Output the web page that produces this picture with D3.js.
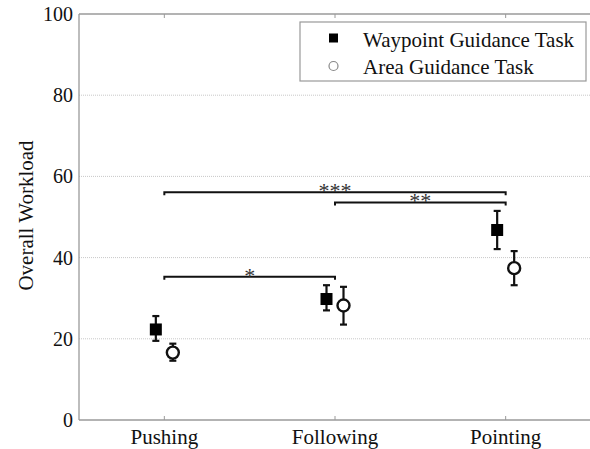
<!DOCTYPE html>
<html>
<head>
<meta charset="utf-8">
<script src="https://cdn.jsdelivr.net/npm/d3@7"></script>
<style>
  body { margin: 0; background: #fff; }
  text { font-family: "Liberation Serif", "Times New Roman", serif; fill: #111; }
</style>
</head>
<body>
<div id="chart"></div>
<script>
// data
var categories = ["Pushing", "Following", "Pointing"];
var waypointMean = [22.3, 29.8, 46.8];
var waypointLow = [19.5, 27.0, 42.1];
var waypointHigh = [25.6, 33.2, 51.5];
var areaMean = [16.6, 28.2, 37.4];
var areaLow = [14.6, 23.5, 33.2];
var areaHigh = [18.8, 32.8, 41.6];
var yTicks = [0, 20, 40, 60, 80, 100];
// significance brackets
var sigFrom = [0, 0, 1];
var sigTo = [1, 2, 2];
var sigLevel = [35.3, 56.1, 53.6];
var sigLabel = ["*", "***", "**"];
var legendLabels = ["Waypoint Guidance Task", "Area Guidance Task"];

var W = 590, H = 449;
var margin = { top: 14, right: -1, bottom: 29, left: 79 };
var width = W - margin.left - margin.right;
var height = H - margin.top - margin.bottom;

var svg = d3.select("#chart").append("svg")
    .attr("width", W).attr("height", H);

var g = svg.append("g")
    .attr("transform", "translate(" + margin.left + "," + margin.top + ")");

var xScale = d3.scaleLinear().domain([0.5, 3.5]).range([0, width]);
var yScale = d3.scaleLinear().domain([0, 100]).range([height, 0]);
var off = 8.5;

// dotted grid
g.selectAll(".grid").data(yTicks.slice(1, -1)).enter().append("line")
    .attr("x1", 0).attr("x2", width)
    .attr("y1", function (d) { return yScale(d); })
    .attr("y2", function (d) { return yScale(d); })
    .attr("stroke", "#c8c8c8").attr("stroke-width", 1)
    .attr("stroke-dasharray", "1,1");

// frame
var axisColor = "#9a9a9a";
g.append("line").attr("x1", 0).attr("x2", 0).attr("y1", 0).attr("y2", height)
    .attr("stroke", axisColor).attr("stroke-width", 1.3);
g.append("line").attr("x1", 0).attr("x2", width).attr("y1", height).attr("y2", height)
    .attr("stroke", axisColor).attr("stroke-width", 1.3);
g.append("line").attr("x1", 0).attr("x2", width).attr("y1", 0).attr("y2", 0)
    .attr("stroke", axisColor).attr("stroke-width", 1.3);

// x ticks top and bottom (inside)
[1, 2, 3].forEach(function (v) {
    var x = xScale(v);
    g.append("line").attr("x1", x).attr("x2", x).attr("y1", height).attr("y2", height - 4)
        .attr("stroke", axisColor);
    g.append("line").attr("x1", x).attr("x2", x).attr("y1", 0).attr("y2", 4)
        .attr("stroke", axisColor);
});

// y tick labels
g.selectAll(".ylab").data(yTicks).enter().append("text")
    .attr("x", -6)
    .attr("y", function (d) { return yScale(d); })
    .attr("dy", "0.35em")
    .attr("text-anchor", "end")
    .style("font-size", "20px")
    .text(function (d) { return d; });

// x tick labels
g.selectAll(".xlab").data(categories).enter().append("text")
    .attr("x", function (d, i) { return xScale(i + 1); })
    .attr("y", height + 24)
    .attr("text-anchor", "middle")
    .style("font-size", "21px")
    .text(function (d) { return d; });

// y title
svg.append("text")
    .attr("transform", "translate(33," + 215.5 + ") rotate(-90)")
    .attr("text-anchor", "middle")
    .style("font-size", "21px")
    .text("Overall Workload");

// significance brackets
sigLabel.forEach(function (lab, k) {
    var x1 = xScale(sigFrom[k] + 1), x2 = xScale(sigTo[k] + 1), y = yScale(sigLevel[k]);
    g.append("path")
        .attr("d", "M" + x1 + "," + (y + 3) + "V" + y + "H" + x2 + "V" + (y + 3))
        .attr("fill", "none").attr("stroke", "#111").attr("stroke-width", 2);
    g.append("text")
        .attr("x", (x1 + x2) / 2)
        .attr("y", y + 6)
        .attr("text-anchor", "middle")
        .style("font-size", "22px")
        .style("fill", "#333")
        .text(lab);
});

// error bars
function errorBars(mean, low, high, dx) {
    mean.forEach(function (m, i) {
        var x = xScale(i + 1) + dx;
        var eg = g.append("g").attr("stroke", "#111").attr("stroke-width", 2.2);
        eg.append("line").attr("x1", x).attr("x2", x)
            .attr("y1", yScale(low[i])).attr("y2", yScale(high[i]));
        eg.append("line").attr("x1", x - 3.5).attr("x2", x + 3.5)
            .attr("y1", yScale(low[i])).attr("y2", yScale(low[i]));
        eg.append("line").attr("x1", x - 3.5).attr("x2", x + 3.5)
            .attr("y1", yScale(high[i])).attr("y2", yScale(high[i]));
    });
}
errorBars(waypointMean, waypointLow, waypointHigh, -off);
errorBars(areaMean, areaLow, areaHigh, off);

// markers
g.selectAll(".sq").data(waypointMean).enter().append("rect")
    .attr("x", function (d, i) { return xScale(i + 1) - off - 6; })
    .attr("y", function (d) { return yScale(d) - 6; })
    .attr("width", 12).attr("height", 12)
    .attr("fill", "#000");
g.selectAll(".ci").data(areaMean).enter().append("circle")
    .attr("cx", function (d, i) { return xScale(i + 1) + off; })
    .attr("cy", function (d) { return yScale(d); })
    .attr("r", 6)
    .attr("fill", "#fff").attr("stroke", "#111").attr("stroke-width", 2.4);

// legend
var lg = svg.append("g").attr("transform", "translate(300,22)");
lg.append("rect").attr("width", 286).attr("height", 59)
    .attr("fill", "#fff").attr("stroke", "#999").attr("stroke-width", 1.2);
lg.append("rect").attr("x", 29).attr("y", 11.5).attr("width", 9).attr("height", 9).attr("fill", "#000");
lg.append("circle").attr("cx", 33.5).attr("cy", 44).attr("r", 4.5)
    .attr("fill", "#fff").attr("stroke", "#888").attr("stroke-width", 1.2);
lg.selectAll(".lt").data(legendLabels).enter().append("text")
    .attr("x", 63)
    .attr("y", function (d, i) { return 24.5 + i * 27.5; })
    .style("font-size", "21px")
    .text(function (d) { return d; });
</script>
</body>
</html>
